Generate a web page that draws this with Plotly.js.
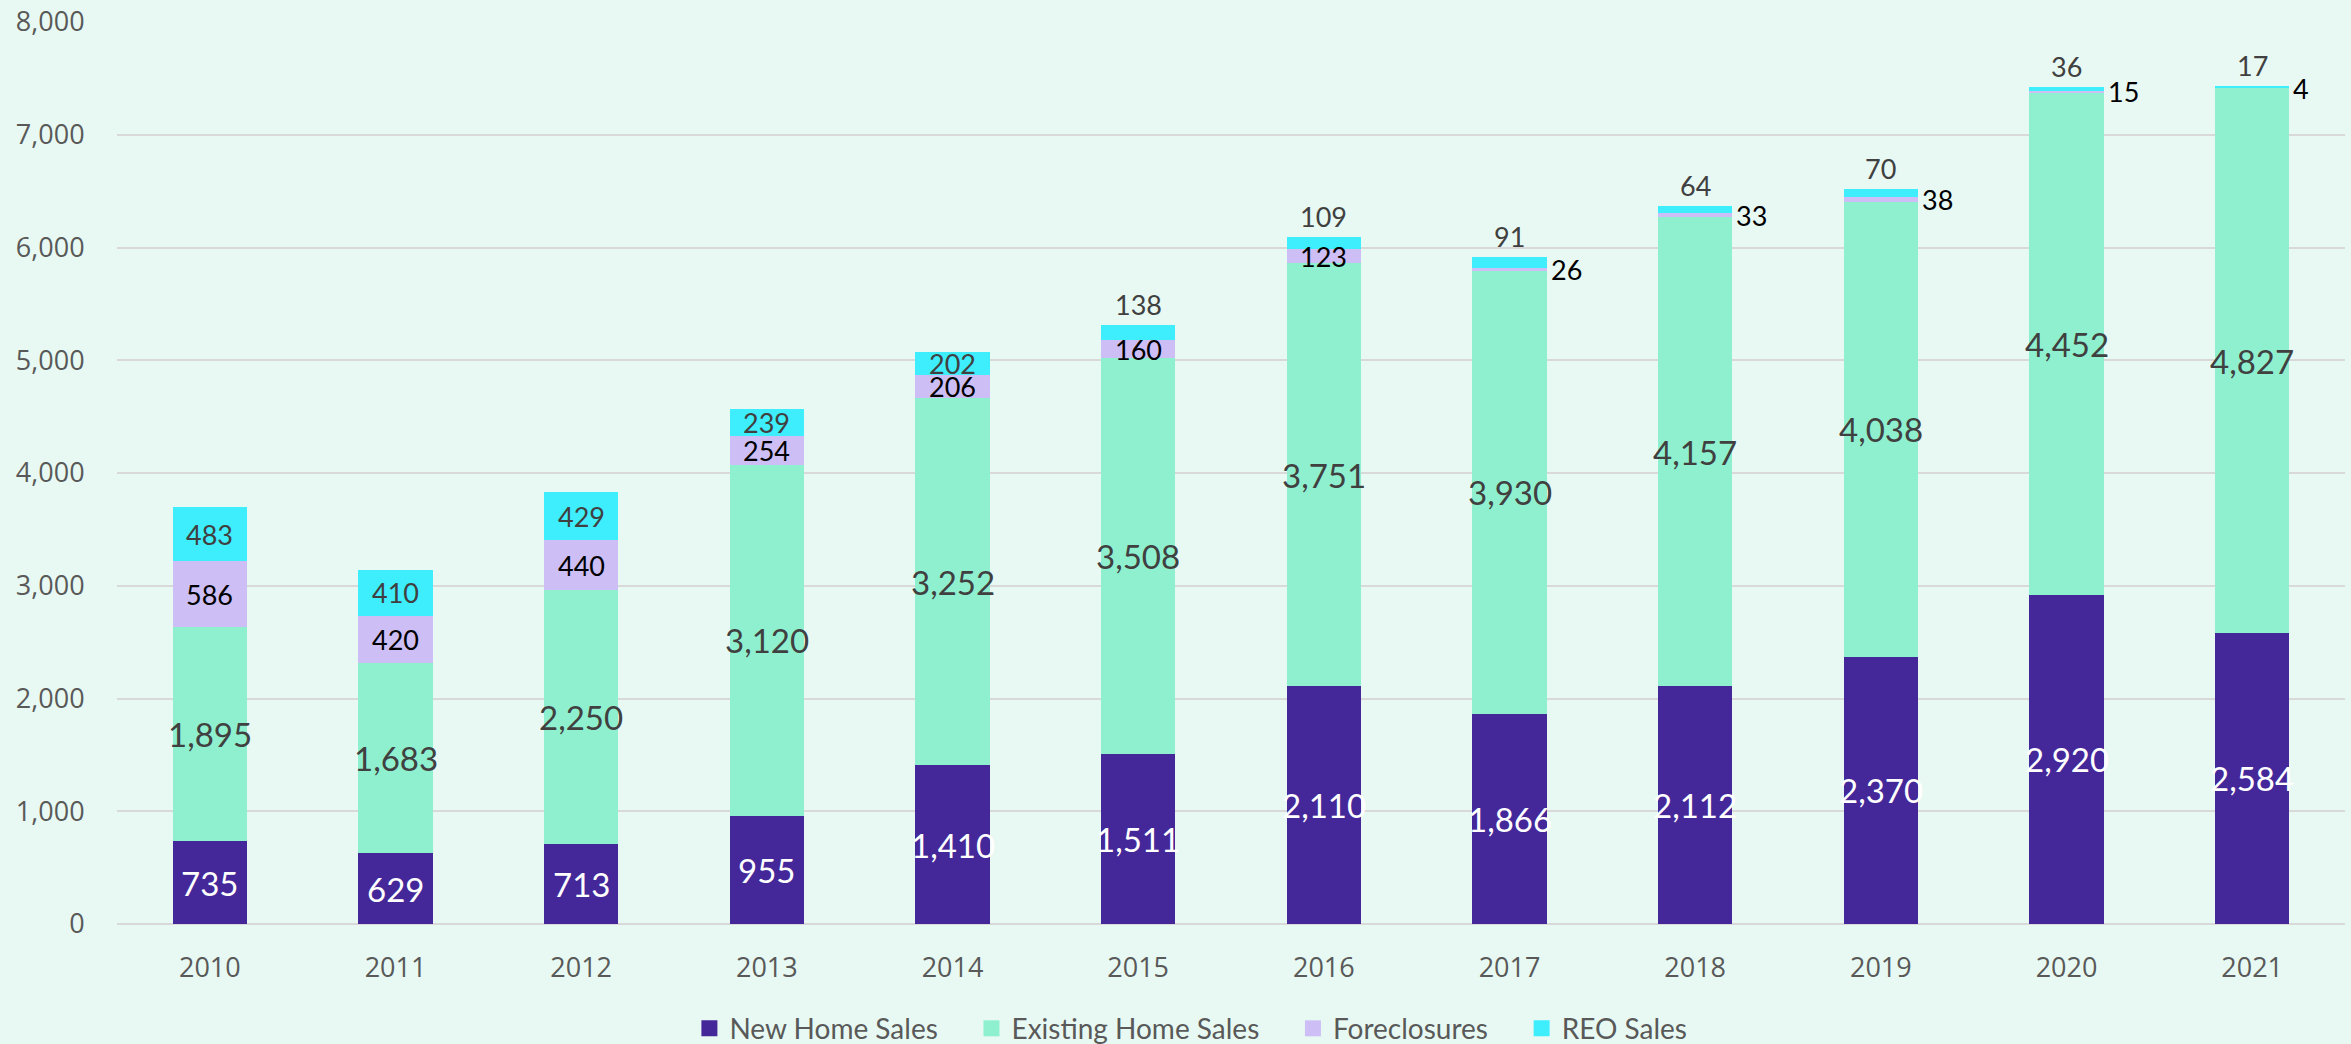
<!DOCTYPE html>
<html><head><meta charset="utf-8">
<script src="https://cdn.plot.ly/plotly-3.0.1.min.js"></script>
<style>html,body{margin:0;padding:0;background:#E8F9F3;} #chart{width:2351px;height:1044px;}</style>
</head><body><div id="chart"></div>
<script>
// ---- data ----
const years = ['2010','2011','2012','2013','2014','2015','2016','2017','2018','2019','2020','2021'];
const newHomeSales = [735, 629, 713, 955, 1410, 1511, 2110, 1866, 2112, 2370, 2920, 2584];
const existingHomeSales = [1895, 1683, 2250, 3120, 3252, 3508, 3751, 3930, 4157, 4038, 4452, 4827];
const foreclosures = [586, 420, 440, 254, 206, 160, 123, 26, 33, 38, 15, 4];
const reoSales = [483, 410, 429, 239, 202, 138, 109, 91, 64, 70, 36, 17];
const seriesNames = ['New Home Sales', 'Existing Home Sales', 'Foreclosures', 'REO Sales'];
const yTickVals = [0,1000,2000,3000,4000,5000,6000,7000,8000];

// ---- styles ----
const colors = ['#44289A', '#8FF0CF', '#CDBFF5', '#3EEEFD'];
const bg = '#E8F9F3';
const series = [newHomeSales, existingHomeSales, foreclosures, reoSales];
const fmt = v => v.toLocaleString('en-US');
const pad = '\u00a0\u00a0\u00a0\u00a0';

const traces = series.map((vals, i) => ({
  type: 'bar', x: years, y: vals, name: seriesNames[i],
  marker: {color: colors[i]}, showlegend: false, hoverinfo: 'x+y+name'
}));
// legend entries with square swatches
seriesNames.forEach((n, i) => traces.push({
  type: 'scatter', mode: 'markers', x: [null], y: [null], name: n + (i < seriesNames.length - 1 ? pad : ''),
  marker: {symbol: 'square', size: 16, color: colors[i]}, showlegend: true, hoverinfo: 'skip'
}));

const annotations = [];
const bigFont = {family: 'Lato, sans-serif', size: 33};
const smallFont = {family: 'Lato, sans-serif', size: 27};
years.forEach((yr, j) => {
  // category axis position: serial index j of the category
  let base = 0;
  annotations.push({x: j, y: base + newHomeSales[j] / 2, text: fmt(newHomeSales[j]), showarrow: false,
    font: Object.assign({color: '#FFFFFF'}, bigFont)});
  base += newHomeSales[j];
  annotations.push({x: j, y: base + existingHomeSales[j] / 2, text: fmt(existingHomeSales[j]), showarrow: false,
    font: Object.assign({color: '#404040'}, bigFont)});
  base += existingHomeSales[j];
  const f = foreclosures[j];
  if (f >= 100) {
    annotations.push({x: j, y: base + f / 2, text: fmt(f), showarrow: false,
      font: Object.assign({color: '#000000'}, smallFont)});
  } else {
    annotations.push({x: j, y: base + f / 2, text: fmt(f), showarrow: false, xanchor: 'left', xshift: 39,
      font: Object.assign({color: '#000000'}, smallFont)});
  }
  base += f;
  const r = reoSales[j];
  if (r >= 200) {
    annotations.push({x: j, y: base + r / 2, text: fmt(r), showarrow: false,
      font: Object.assign({color: '#404040'}, smallFont)});
  } else {
    annotations.push({x: j, y: base + r, text: fmt(r), showarrow: false, yanchor: 'bottom', yshift: 2,
      font: Object.assign({color: '#404040'}, smallFont)});
  }
});

const layout = {
  width: 2351, height: 1044,
  paper_bgcolor: bg, plot_bgcolor: bg,
  margin: {l: 117, r: 6, t: 22, b: 120, autoexpand: false},
  barmode: 'stack', bargap: 0.6,
  font: {family: 'Open Sans, sans-serif', color: '#595959'},
  xaxis: {type: 'category', range: [-0.5, years.length - 0.5], autorange: false,
    showgrid: false, showline: false, zeroline: false,
    ticks: 'outside', ticklen: 20, tickcolor: 'rgba(0,0,0,0)',
    tickfont: {family: 'Open Sans, sans-serif', size: 27, color: '#595959'}},
  yaxis: {range: [0, 8000], autorange: false, tickvals: yTickVals, ticktext: yTickVals.map(fmt),
    showgrid: true, gridcolor: '#D9D9D9', gridwidth: 2,
    zeroline: true, zerolinecolor: '#D9D9D9', zerolinewidth: 2, showline: false,
    ticks: 'outside', ticklen: 26, tickcolor: 'rgba(0,0,0,0)',
    tickfont: {family: 'Open Sans, sans-serif', size: 27, color: '#595959'}},
  legend: {orientation: 'h', x: 0.482, xanchor: 'center', y: -0.116, yanchor: 'middle',
    traceorder: 'normal', bgcolor: 'rgba(0,0,0,0)', itemsizing: 'trace',
    font: {family: 'Lato, sans-serif', size: 28, color: '#595959'}},
  annotations: annotations,
  showlegend: true
};

Plotly.newPlot('chart', traces, layout, {displayModeBar: false, staticPlot: true});
</script>
</body></html>
